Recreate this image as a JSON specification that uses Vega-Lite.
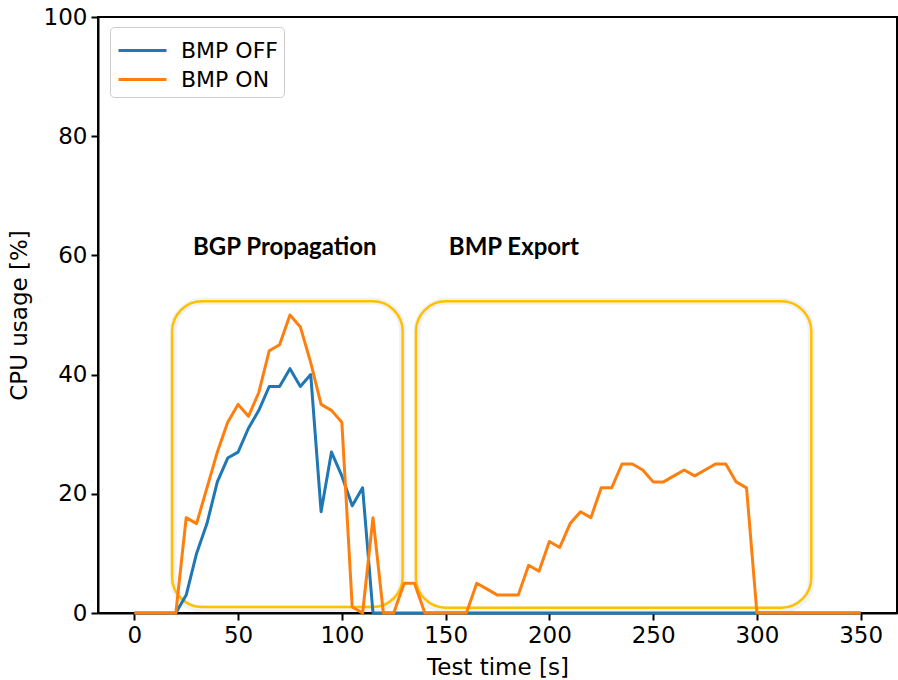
{
  "$schema": "https://vega.github.io/schema/vega-lite/v6.json",
  "width": 799,
  "height": 596,
  "autosize": {"type": "none"},
  "padding": {"left": 98, "top": 17, "right": 1, "bottom": 67},
  "background": "white",
  "config": {
    "font": "DejaVu Sans",
    "view": {"stroke": "black", "strokeWidth": 2},
    "axis": {
      "grid": false,
      "domainColor": "black",
      "domainWidth": 2,
      "tickColor": "black",
      "tickWidth": 2,
      "tickSize": 7,
      "labelFont": "DejaVu Sans",
      "labelFontSize": 23,
      "labelColor": "black",
      "titleFont": "DejaVu Sans",
      "titleFontSize": 23,
      "titleFontWeight": "normal",
      "titleColor": "black"
    }
  },
  "datasets": {
    "cpu": [
      {"series": "BMP OFF", "time": 0, "cpu": 0},
      {"series": "BMP OFF", "time": 5, "cpu": 0},
      {"series": "BMP OFF", "time": 10, "cpu": 0},
      {"series": "BMP OFF", "time": 15, "cpu": 0},
      {"series": "BMP OFF", "time": 20, "cpu": 0},
      {"series": "BMP OFF", "time": 25, "cpu": 3},
      {"series": "BMP OFF", "time": 30, "cpu": 10},
      {"series": "BMP OFF", "time": 35, "cpu": 15},
      {"series": "BMP OFF", "time": 40, "cpu": 22},
      {"series": "BMP OFF", "time": 45, "cpu": 26},
      {"series": "BMP OFF", "time": 50, "cpu": 27},
      {"series": "BMP OFF", "time": 55, "cpu": 31},
      {"series": "BMP OFF", "time": 60, "cpu": 34},
      {"series": "BMP OFF", "time": 65, "cpu": 38},
      {"series": "BMP OFF", "time": 70, "cpu": 38},
      {"series": "BMP OFF", "time": 75, "cpu": 41},
      {"series": "BMP OFF", "time": 80, "cpu": 38},
      {"series": "BMP OFF", "time": 85, "cpu": 40},
      {"series": "BMP OFF", "time": 90, "cpu": 17},
      {"series": "BMP OFF", "time": 95, "cpu": 27},
      {"series": "BMP OFF", "time": 100, "cpu": 23},
      {"series": "BMP OFF", "time": 105, "cpu": 18},
      {"series": "BMP OFF", "time": 110, "cpu": 21},
      {"series": "BMP OFF", "time": 115, "cpu": 0},
      {"series": "BMP OFF", "time": 120, "cpu": 0},
      {"series": "BMP OFF", "time": 125, "cpu": 0},
      {"series": "BMP OFF", "time": 130, "cpu": 0},
      {"series": "BMP OFF", "time": 135, "cpu": 0},
      {"series": "BMP OFF", "time": 140, "cpu": 0},
      {"series": "BMP OFF", "time": 145, "cpu": 0},
      {"series": "BMP OFF", "time": 150, "cpu": 0},
      {"series": "BMP OFF", "time": 155, "cpu": 0},
      {"series": "BMP OFF", "time": 160, "cpu": 0},
      {"series": "BMP OFF", "time": 165, "cpu": 0},
      {"series": "BMP OFF", "time": 170, "cpu": 0},
      {"series": "BMP OFF", "time": 175, "cpu": 0},
      {"series": "BMP OFF", "time": 180, "cpu": 0},
      {"series": "BMP OFF", "time": 185, "cpu": 0},
      {"series": "BMP OFF", "time": 190, "cpu": 0},
      {"series": "BMP OFF", "time": 195, "cpu": 0},
      {"series": "BMP OFF", "time": 200, "cpu": 0},
      {"series": "BMP OFF", "time": 205, "cpu": 0},
      {"series": "BMP OFF", "time": 210, "cpu": 0},
      {"series": "BMP OFF", "time": 215, "cpu": 0},
      {"series": "BMP OFF", "time": 220, "cpu": 0},
      {"series": "BMP OFF", "time": 225, "cpu": 0},
      {"series": "BMP OFF", "time": 230, "cpu": 0},
      {"series": "BMP OFF", "time": 235, "cpu": 0},
      {"series": "BMP OFF", "time": 240, "cpu": 0},
      {"series": "BMP OFF", "time": 245, "cpu": 0},
      {"series": "BMP OFF", "time": 250, "cpu": 0},
      {"series": "BMP OFF", "time": 255, "cpu": 0},
      {"series": "BMP OFF", "time": 260, "cpu": 0},
      {"series": "BMP OFF", "time": 265, "cpu": 0},
      {"series": "BMP OFF", "time": 270, "cpu": 0},
      {"series": "BMP OFF", "time": 275, "cpu": 0},
      {"series": "BMP OFF", "time": 280, "cpu": 0},
      {"series": "BMP OFF", "time": 285, "cpu": 0},
      {"series": "BMP OFF", "time": 290, "cpu": 0},
      {"series": "BMP OFF", "time": 295, "cpu": 0},
      {"series": "BMP OFF", "time": 300, "cpu": 0},
      {"series": "BMP OFF", "time": 305, "cpu": 0},
      {"series": "BMP OFF", "time": 310, "cpu": 0},
      {"series": "BMP OFF", "time": 315, "cpu": 0},
      {"series": "BMP OFF", "time": 320, "cpu": 0},
      {"series": "BMP OFF", "time": 325, "cpu": 0},
      {"series": "BMP OFF", "time": 330, "cpu": 0},
      {"series": "BMP OFF", "time": 335, "cpu": 0},
      {"series": "BMP OFF", "time": 340, "cpu": 0},
      {"series": "BMP OFF", "time": 345, "cpu": 0},
      {"series": "BMP OFF", "time": 350, "cpu": 0},
      {"series": "BMP ON", "time": 0, "cpu": 0},
      {"series": "BMP ON", "time": 5, "cpu": 0},
      {"series": "BMP ON", "time": 10, "cpu": 0},
      {"series": "BMP ON", "time": 15, "cpu": 0},
      {"series": "BMP ON", "time": 20, "cpu": 0},
      {"series": "BMP ON", "time": 25, "cpu": 16},
      {"series": "BMP ON", "time": 30, "cpu": 15},
      {"series": "BMP ON", "time": 35, "cpu": 21},
      {"series": "BMP ON", "time": 40, "cpu": 27},
      {"series": "BMP ON", "time": 45, "cpu": 32},
      {"series": "BMP ON", "time": 50, "cpu": 35},
      {"series": "BMP ON", "time": 55, "cpu": 33},
      {"series": "BMP ON", "time": 60, "cpu": 37},
      {"series": "BMP ON", "time": 65, "cpu": 44},
      {"series": "BMP ON", "time": 70, "cpu": 45},
      {"series": "BMP ON", "time": 75, "cpu": 50},
      {"series": "BMP ON", "time": 80, "cpu": 48},
      {"series": "BMP ON", "time": 85, "cpu": 42},
      {"series": "BMP ON", "time": 90, "cpu": 35},
      {"series": "BMP ON", "time": 95, "cpu": 34},
      {"series": "BMP ON", "time": 100, "cpu": 32},
      {"series": "BMP ON", "time": 105, "cpu": 1},
      {"series": "BMP ON", "time": 110, "cpu": 0},
      {"series": "BMP ON", "time": 115, "cpu": 16},
      {"series": "BMP ON", "time": 120, "cpu": 0},
      {"series": "BMP ON", "time": 125, "cpu": 0},
      {"series": "BMP ON", "time": 130, "cpu": 5},
      {"series": "BMP ON", "time": 135, "cpu": 5},
      {"series": "BMP ON", "time": 140, "cpu": 0},
      {"series": "BMP ON", "time": 145, "cpu": 0},
      {"series": "BMP ON", "time": 150, "cpu": 0},
      {"series": "BMP ON", "time": 155, "cpu": 0},
      {"series": "BMP ON", "time": 160, "cpu": 0},
      {"series": "BMP ON", "time": 165, "cpu": 5},
      {"series": "BMP ON", "time": 170, "cpu": 4},
      {"series": "BMP ON", "time": 175, "cpu": 3},
      {"series": "BMP ON", "time": 180, "cpu": 3},
      {"series": "BMP ON", "time": 185, "cpu": 3},
      {"series": "BMP ON", "time": 190, "cpu": 8},
      {"series": "BMP ON", "time": 195, "cpu": 7},
      {"series": "BMP ON", "time": 200, "cpu": 12},
      {"series": "BMP ON", "time": 205, "cpu": 11},
      {"series": "BMP ON", "time": 210, "cpu": 15},
      {"series": "BMP ON", "time": 215, "cpu": 17},
      {"series": "BMP ON", "time": 220, "cpu": 16},
      {"series": "BMP ON", "time": 225, "cpu": 21},
      {"series": "BMP ON", "time": 230, "cpu": 21},
      {"series": "BMP ON", "time": 235, "cpu": 25},
      {"series": "BMP ON", "time": 240, "cpu": 25},
      {"series": "BMP ON", "time": 245, "cpu": 24},
      {"series": "BMP ON", "time": 250, "cpu": 22},
      {"series": "BMP ON", "time": 255, "cpu": 22},
      {"series": "BMP ON", "time": 260, "cpu": 23},
      {"series": "BMP ON", "time": 265, "cpu": 24},
      {"series": "BMP ON", "time": 270, "cpu": 23},
      {"series": "BMP ON", "time": 275, "cpu": 24},
      {"series": "BMP ON", "time": 280, "cpu": 25},
      {"series": "BMP ON", "time": 285, "cpu": 25},
      {"series": "BMP ON", "time": 290, "cpu": 22},
      {"series": "BMP ON", "time": 295, "cpu": 21},
      {"series": "BMP ON", "time": 300, "cpu": 0},
      {"series": "BMP ON", "time": 305, "cpu": 0},
      {"series": "BMP ON", "time": 310, "cpu": 0},
      {"series": "BMP ON", "time": 315, "cpu": 0},
      {"series": "BMP ON", "time": 320, "cpu": 0},
      {"series": "BMP ON", "time": 325, "cpu": 0},
      {"series": "BMP ON", "time": 330, "cpu": 0},
      {"series": "BMP ON", "time": 335, "cpu": 0},
      {"series": "BMP ON", "time": 340, "cpu": 0},
      {"series": "BMP ON", "time": 345, "cpu": 0},
      {"series": "BMP ON", "time": 350, "cpu": 0}
    ],
    "phases": [
      {"phase": "BGP Propagation", "start": 18.2, "end": 129.3, "low": 1.0, "high": 52.3, "labelTime": 72.5, "labelCpu": 60},
      {"phase": "BMP Export", "start": 135.7, "end": 326.2, "low": 0.9, "high": 52.3, "labelTime": 182.9, "labelCpu": 60}
    ]
  },
  "layer": [
    {
      "data": {"name": "phases"},
      "mark": {"type": "rect", "filled": false, "color": "#808080", "strokeWidth": 7, "strokeOpacity": 0.1, "cornerRadius": 30, "xOffset": 1, "yOffset": 2},
      "encoding": {
        "x": {"field": "start", "type": "quantitative", "title": "Test time [s]"},
        "x2": {"field": "end"},
        "y": {"field": "low", "type": "quantitative", "title": "CPU usage [%]"},
        "y2": {"field": "high"}
      }
    },
    {
      "data": {"name": "phases"},
      "mark": {"type": "rect", "filled": false, "color": "#ffc000", "strokeWidth": 2.5, "cornerRadius": 30},
      "encoding": {
        "x": {"field": "start", "type": "quantitative", "title": "Test time [s]"},
        "x2": {"field": "end"},
        "y": {"field": "low", "type": "quantitative", "title": "CPU usage [%]"},
        "y2": {"field": "high"}
      }
    },
    {
      "data": {"name": "cpu"},
      "mark": {"type": "line", "strokeWidth": 3, "strokeJoin": "round"},
      "encoding": {
        "x": {
          "field": "time",
          "type": "quantitative",
          "title": "Test time [s]",
          "scale": {"domain": [-17.5, 367.5], "nice": false, "zero": false},
          "axis": {"values": [0, 50, 100, 150, 200, 250, 300, 350], "labelPadding": 4, "titlePadding": 9}
        },
        "y": {
          "field": "cpu",
          "type": "quantitative",
          "title": "CPU usage [%]",
          "scale": {"domain": [0, 100], "nice": false},
          "axis": {"values": [0, 20, 40, 60, 80, 100], "labelPadding": 4, "titlePadding": 12}
        },
        "color": {
          "field": "series",
          "type": "nominal",
          "scale": {"domain": ["BMP OFF", "BMP ON"], "range": ["#1f77b4", "#ff7f0e"]},
          "legend": {
            "orient": "none",
            "legendX": 12,
            "legendY": 10,
            "title": null,
            "padding": 6,
            "strokeColor": "#cccccc",
            "fillColor": "white",
            "cornerRadius": 4,
            "symbolType": "M-1.5,0H1.5",
            "symbolSize": 1024,
            "symbolStrokeWidth": 3,
            "symbolOffset": 9,
            "labelOffset": 21,
            "rowPadding": 0,
            "labelFont": "DejaVu Sans",
            "labelFontSize": 22,
            "labelColor": "black"
          }
        }
      }
    },
    {
      "data": {"name": "phases"},
      "mark": {"type": "text", "font": "Lato", "fontWeight": "bold", "fontSize": 24, "align": "center", "baseline": "alphabetic", "color": "black"},
      "encoding": {
        "x": {"field": "labelTime", "type": "quantitative", "title": "Test time [s]"},
        "y": {"field": "labelCpu", "type": "quantitative", "title": "CPU usage [%]"},
        "text": {"field": "phase"}
      }
    }
  ]
}
